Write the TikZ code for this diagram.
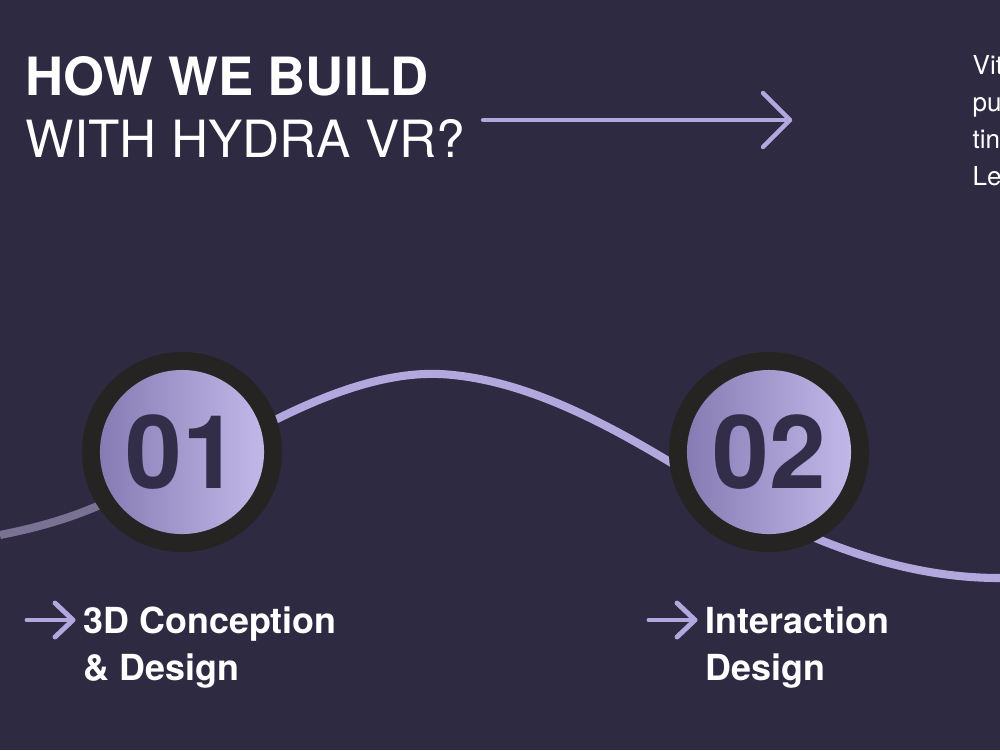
\documentclass[tikz,border=0pt]{standalone}
\usepackage{fontspec}
\setmainfont{TeX Gyre Heros}
\usetikzlibrary{positioning}
\definecolor{bgnavy}{RGB}{46,42,66}
\definecolor{lavender}{RGB}{178,168,222}
\definecolor{dusk}{RGB}{122,114,146}
\definecolor{ringdark}{RGB}{38,36,34}
\definecolor{discleft}{RGB}{134,124,180}
\definecolor{discright}{RGB}{194,184,232}
\definecolor{digitink}{RGB}{50,45,72}
\tikzset{
  ring/.style={circle, fill=ringdark, minimum size=2cm, inner sep=0pt},
  digits/.style={text=digitink, font=\fontsize{29}{32}\selectfont\bfseries},
  steplabel/.style={anchor=base west, text=white, inner sep=0pt, font=\fontsize{10.2}{12}\selectfont\bfseries},
  pointer/.style={draw=lavender, line width=1.4pt, line cap=round, line join=round},
}
\begin{document}
\begin{tikzpicture}[x=0.01cm, y=-0.01cm]
    % Background
    \useasboundingbox (0,0) rectangle (1000,750);
    \fill[bgnavy] (0,0) rectangle (1000,750);
    \clip (0,0) rectangle (1000,750);

    % Title
    \node[anchor=base west, inner sep=0pt, text=white, font=\fontsize{15}{18}\selectfont\bfseries] (title1) at (25,95) {HOW WE BUILD};
    \node[anchor=base west, inner sep=0pt, text=white, font=\fontsize{14.6}{18}\selectfont] (title2) at (25,157) {WITH HYDRA VR?};

    % Title arrow
    \coordinate (ta0) at (483,120);
    \coordinate (ta1) at (790,120);
    \draw[pointer, line width=1.25pt] (ta0) -- (ta1);
    \draw[pointer, line width=1.25pt] ([shift={(-27,-27)}]ta1) -- (ta1) -- ([shift={(-27,27)}]ta1);

    % Side text (cut by the edge)
    \foreach \txt/\yy in {Vit/74, pu/111, tin/148, Le/185}
        \node[anchor=base west, inner sep=0pt, text=white, font=\fontsize{7.4}{8}\selectfont] at (972,\yy) {\txt};

    % Wave
    \draw[dusk, line width=2.3pt] (0,535) .. controls (40,527) and (70,518) .. (100,505);
    \draw[lavender, line width=2.3pt]
        (100,505) .. controls (160,478) and (220,447) .. (275,420)
        .. controls (335,390) and (390,372) .. (440,374)
        .. controls (520,378) and (600,420) .. (670,462)
        .. controls (730,500) and (770,520) .. (813,537)
        .. controls (880,565) and (940,578) .. (1000,578);

    % Steps
    \foreach \n/\cx/\num in {s1/182/01, s2/769/02} {
        \node[ring] (\n) at (\cx,452) {};
        \shade[left color=discleft, right color=discright] (\n.center) circle[radius=0.82cm];
        \node[digits] (\n num) at (\n.center) {\num};
    }

    % Labels
    \node[steplabel] (l1a) at (83,633) {3D Conception};
    \node[steplabel] (l1b) at (83,680) {\& Design};
    \node[steplabel] (l2a) at (705,633) {Interaction};
    \node[steplabel] (l2b) at (705,680) {Design};

    % Label arrows
    \foreach \lab in {l1a, l2a} {
        \coordinate (tip) at ([shift={(-10,-13)}]\lab.base west);
        \draw[pointer] ([xshift=-0.46cm]tip) -- (tip);
        \draw[pointer] ([shift={(-18,-17)}]tip) -- (tip) -- ([shift={(-18,17)}]tip);
    }
\end{tikzpicture}
\end{document}
